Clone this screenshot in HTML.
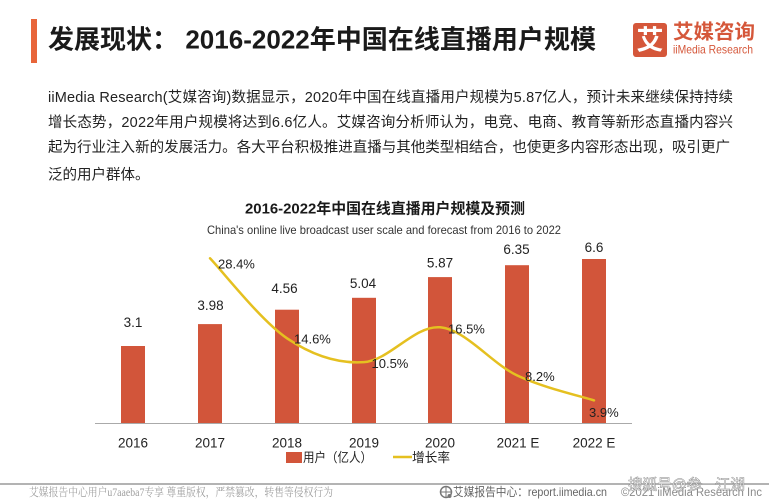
<!DOCTYPE html>
<html>
<head>
<meta charset="utf-8">
<style>
  html, body { margin: 0; padding: 0; background: #ffffff; }
  body { width: 769px; height: 500px; overflow: hidden; }
  svg { display: block; }
  .sans { font-family: "Liberation Sans", "Noto Sans CJK SC", sans-serif; }
  .serif { font-family: "Liberation Serif", "Noto Serif CJK SC", serif; }
</style>
</head>
<body>
<svg width="769" height="500" viewBox="0 0 769 500" xmlns="http://www.w3.org/2000/svg">
  <rect x="0" y="0" width="769" height="500" fill="#ffffff"/>

  <!-- Header -->
  <rect x="31" y="19" width="6" height="44" fill="#E8653A"/>
  <text class="sans" x="48" y="48.5" font-size="26" font-weight="bold" fill="#1a1a1a" textLength="548" lengthAdjust="spacingAndGlyphs">发展现状： 2016-2022年中国在线直播用户规模</text>

  <!-- Logo -->
  <rect x="633" y="23" width="34" height="34" rx="3" fill="#D5573A"/>
  <text class="sans" x="650" y="49.5" font-size="27" font-weight="bold" fill="#ffffff" text-anchor="middle">艾</text>
  <text class="sans" x="673" y="38.5" font-size="20" font-weight="bold" fill="#D5573A" textLength="82" lengthAdjust="spacingAndGlyphs">艾媒咨询</text>
  <text class="sans" x="673" y="53.5" font-size="12" fill="#D5573A" textLength="80" lengthAdjust="spacingAndGlyphs">iiMedia Research</text>

  <!-- Paragraph -->
  <g class="sans" font-size="14.5" fill="#222222">
    <text x="48" y="102.2" textLength="685" lengthAdjust="spacing">iiMedia  Research(艾媒咨询)数据显示，2020年中国在线直播用户规模为5.87亿人，预计未来继续保持持续</text>
    <text x="48" y="127.2" textLength="685" lengthAdjust="spacing">增长态势，2022年用户规模将达到6.6亿人。艾媒咨询分析师认为，电竞、电商、教育等新形态直播内容兴</text>
    <text x="48" y="152.2" textLength="682" lengthAdjust="spacing">起为行业注入新的发展活力。各大平台积极推进直播与其他类型相结合，也使更多内容形态出现，吸引更广</text>
    <text x="48" y="179.5">泛的用户群体。</text>
  </g>

  <!-- Chart title -->
  <text class="sans" x="385" y="213.5" font-size="15" font-weight="bold" fill="#1a1a1a" text-anchor="middle" textLength="280" lengthAdjust="spacingAndGlyphs">2016-2022年中国在线直播用户规模及预测</text>
  <text class="sans" x="384" y="234" font-size="12" fill="#333333" text-anchor="middle" textLength="354" lengthAdjust="spacingAndGlyphs">China's online live broadcast user scale and forecast from 2016 to 2022</text>

  <!-- Bars -->
  <g fill="#D2553A">
    <rect x="121" y="346.0" width="24" height="77.0"/>
    <rect x="198" y="324.1" width="24" height="98.9"/>
    <rect x="275" y="309.7" width="24" height="113.3"/>
    <rect x="352" y="297.8" width="24" height="125.2"/>
    <rect x="428" y="277.1" width="24" height="145.9"/>
    <rect x="505" y="265.2" width="24" height="157.8"/>
    <rect x="582" y="259.0" width="24" height="164.0"/>
  </g>

  <!-- Axis -->
  <line x1="95" y1="423.5" x2="632" y2="423.5" stroke="#AAAAAA" stroke-width="1"/>

  <!-- Value labels -->
  <g class="sans" font-size="13.5" fill="#222222" text-anchor="middle">
    <text x="133" y="327">3.1</text>
    <text x="210.5" y="310">3.98</text>
    <text x="284.5" y="293">4.56</text>
    <text x="363" y="288">5.04</text>
    <text x="440" y="267.5">5.87</text>
    <text x="516.5" y="254">6.35</text>
    <text x="594" y="252">6.6</text>
  </g>

  <!-- Growth line -->
  <path d="M210,258.3 C222.8,271.6 261.3,321.0 287,338.3 C312.7,355.6 338.5,363.9 364,362.1 C389.5,360.3 414.5,325.1 440,327.3 C465.5,329.5 491.3,363.2 517,375.4 C542.7,387.6 581.2,396.2 594,400.4"
        fill="none" stroke="#E5C020" stroke-width="2.5" stroke-linecap="round" stroke-linejoin="round"/>

  <!-- Percent labels -->
  <g class="sans" font-size="13" fill="#222222">
    <text x="218" y="268.5">28.4%</text>
    <text x="294" y="343.5">14.6%</text>
    <text x="371.5" y="368">10.5%</text>
    <text x="448" y="333.5">16.5%</text>
    <text x="525" y="381">8.2%</text>
    <text x="589" y="417">3.9%</text>
  </g>

  <!-- Category labels -->
  <g class="sans" font-size="13.5" fill="#222222" text-anchor="middle">
    <text x="133" y="447.5">2016</text>
    <text x="210" y="447.5">2017</text>
    <text x="287" y="447.5">2018</text>
    <text x="364" y="447.5">2019</text>
    <text x="440" y="447.5">2020</text>
    <text x="518" y="447.5">2021 E</text>
    <text x="594" y="447.5">2022 E</text>
  </g>

  <!-- Legend -->
  <rect x="286" y="452" width="16" height="11" fill="#D2553A"/>
  <text class="sans" x="303" y="462" font-size="13" fill="#222222" textLength="69" lengthAdjust="spacingAndGlyphs">用户（亿人）</text>
  <line x1="393" y1="457" x2="412" y2="457" stroke="#E5C020" stroke-width="2.5"/>
  <text class="sans" x="412" y="462" font-size="13" fill="#222222" textLength="38" lengthAdjust="spacingAndGlyphs">增长率</text>

  <!-- Footer -->
  <line x1="0" y1="484" x2="769" y2="484" stroke="#9A9A9A" stroke-width="1.6"/>
  <text class="serif" x="29" y="496" font-size="11.5" fill="#A0A0A0" textLength="304" lengthAdjust="spacingAndGlyphs">艾媒报告中心用户u7aaeba7专享 尊重版权，严禁篡改，转售等侵权行为</text>

  <g transform="translate(446,492)">
    <circle cx="0" cy="0" r="5.5" fill="none" stroke="#777777" stroke-width="1.5"/>
    <path d="M-5,0 H5 M0,-5.5 V5.5" stroke="#777777" stroke-width="1"/>
    <circle cx="3.5" cy="4" r="2" fill="#777777"/>
  </g>
  <text class="sans" x="453" y="496" font-size="12" fill="#666666" textLength="154" lengthAdjust="spacingAndGlyphs">艾媒报告中心：report.iimedia.cn</text>
  <text class="sans" x="621" y="496" font-size="11.5" fill="#8A8A8A" textLength="141" lengthAdjust="spacingAndGlyphs">©2021  iiMedia Research  Inc</text>

  <!-- Watermark -->
  <text class="sans" x="686.5" y="489.5" font-size="15" fill="#ffffff" stroke="#888888" stroke-width="0.45" text-anchor="middle" textLength="117" lengthAdjust="spacingAndGlyphs">搜狐号@参一江湖</text>
</svg>
</body>
</html>
